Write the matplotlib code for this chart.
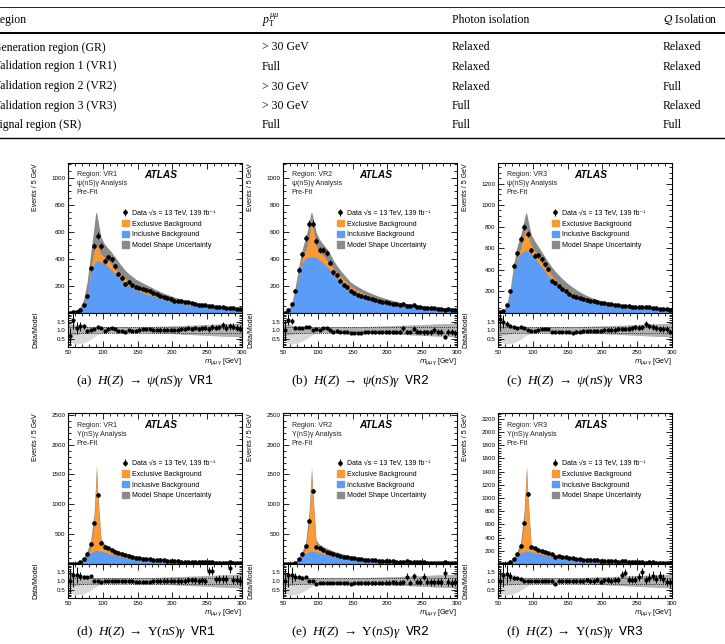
import numpy as np
import matplotlib.pyplot as plt
from matplotlib.lines import Line2D
from matplotlib.patches import Patch
from matplotlib.ticker import MultipleLocator, FormatStrFormatter

plt.rcParams['font.family'] = ['Liberation Sans', 'DejaVu Sans']
plt.rcParams['mathtext.fontset'] = 'custom'
plt.rcParams['mathtext.rm'] = 'Liberation Serif'
plt.rcParams['mathtext.it'] = 'Liberation Serif:italic'
plt.rcParams['mathtext.bf'] = 'Liberation Serif:bold'
plt.rcParams['mathtext.tt'] = 'Liberation Mono'

# ---- tabela de regioes ----
table_header = ['Region', r'$p_{\mathrm{T}}^{\mu\mu}$', 'Photon isolation', r'$\mathcal{Q}$ Isolation']
region_names = ['Generation region (GR)', 'Validation region 1 (VR1)', 'Validation region 2 (VR2)',
                'Validation region 3 (VR3)', 'Signal region (SR)']
pt_cut = ['> 30 GeV', 'Full', '> 30 GeV', '> 30 GeV', 'Full']
photon_iso = ['Relaxed', 'Relaxed', 'Relaxed', 'Full', 'Full']
q_iso = ['Relaxed', 'Relaxed', 'Full', 'Relaxed', 'Full']

# ---- binning: bins de 5 GeV, modelo tambem no pico do Z ----
centers = np.arange(52.5, 300, 5)
m_grid = np.sort(np.r_[50, centers, 89.5, 91, 300])
on_bin = np.isin(m_grid, centers)

# modelo: 50..82.5 | 87.5 89.5 91 92.5 | 97.5..147.5 | 152.5..197.5 | 202.5..247.5 | 252.5..300
psi_vr1_incl = [0, 3, 5, 9, 18, 47, 125, 300, 365, 378, 383, 385,
                378, 362, 342, 318, 292, 266, 243, 222, 204, 188, 174,
                162, 152, 143, 134, 126, 118, 110, 102, 95, 88,
                82, 77, 72, 67, 62, 58, 54, 50, 47, 44,
                41, 38, 36, 34, 32, 30, 28, 26, 25, 24, 23]
psi_vr1_excl = [0, 0, 0, 0, 0, 0, 5, 30, 90, 115, 125, 110,
                60, 50, 45, 42, 38, 35, 32, 30, 28, 26, 24,
                22, 21, 20, 19, 18, 17, 16, 15, 14, 13,
                12, 12, 11, 10, 10, 9, 9, 8, 8, 7,
                7, 6, 6, 6, 5, 5, 5, 4, 4, 4, 4]
psi_vr1_unc = [0, 5, 10, 22, 45, 100, 230, 440, 640, 730, 750, 700,
               560, 510, 480, 450, 415, 380, 345, 315, 290, 270, 250,
               236, 222, 209, 196, 183, 170, 158, 147, 137, 128,
               119, 111, 104, 97, 91, 85, 80, 75, 70, 66,
               62, 59, 56, 53, 50, 48, 46, 44, 42, 41, 40]
psi_vr1_data = [2, 8, 10, 22, 57, 125, 330, 495, 573, 494,
                385, 412, 398, 345, 290, 262, 218, 228, 205, 192,
                188, 180, 168, 160, 146, 138, 126, 118, 110, 100,
                92, 90, 86, 80, 81, 72, 70, 62, 60, 58,
                50, 52, 48, 46, 47, 40, 40, 36, 33, 30]

psi_vr2_incl = [0, 3, 15, 42, 140, 265, 365, 405, 415, 417, 418, 417,
                410, 392, 370, 345, 318, 290, 263, 238, 215, 193, 172,
                155, 142, 130, 120, 110, 101, 93, 86, 80, 74,
                70, 66, 62, 58, 54, 51, 48, 45, 42, 40,
                38, 36, 34, 32, 30, 29, 27, 26, 25, 24, 23]
psi_vr2_excl = [0, 0, 0, 0, 5, 15, 30, 60, 140, 230, 290, 240,
                90, 65, 55, 50, 45, 40, 37, 34, 31, 28, 26,
                24, 22, 21, 20, 19, 18, 17, 16, 15, 14,
                13, 12, 12, 11, 10, 10, 9, 9, 8, 8,
                7, 7, 6, 6, 6, 5, 5, 5, 4, 4, 4]
psi_vr2_unc = [0, 5, 25, 70, 190, 340, 470, 560, 660, 730, 750, 720,
               600, 545, 510, 480, 440, 390, 350, 315, 285, 255, 228,
               210, 195, 180, 167, 155, 144, 134, 124, 115, 107,
               100, 93, 87, 81, 76, 71, 67, 63, 59, 56,
               53, 50, 48, 46, 44, 42, 40, 38, 37, 36, 35]
psi_vr2_data = [3, 24, 64, 165, 320, 433, 556, 662, 662, 531,
                465, 465, 446, 372, 300, 280, 240, 210, 195, 165,
                145, 135, 128, 120, 112, 105, 94, 88, 83, 78,
                74, 70, 66, 60, 70, 54, 50, 58, 45, 42,
                39, 37, 35, 38, 32, 30, 19, 27, 25, 23]

psi_vr3_incl = [0, 3, 12, 55, 165, 375, 495, 555, 572, 575, 575, 575,
                555, 515, 470, 430, 390, 345, 305, 272, 243, 218, 196,
                177, 160, 146, 133, 122, 112, 103, 95, 88, 82,
                76, 71, 66, 62, 58, 55, 52, 49, 46, 44,
                42, 40, 38, 36, 35, 33, 32, 30, 29, 28, 27]
psi_vr3_excl = [0, 0, 0, 0, 0, 5, 10, 40, 150, 190, 200, 160,
                80, 65, 58, 52, 47, 43, 40, 37, 34, 31, 29,
                27, 25, 23, 22, 20, 19, 18, 17, 16, 15,
                14, 13, 12, 12, 11, 10, 10, 9, 9, 8,
                8, 7, 7, 7, 6, 6, 6, 5, 5, 5, 5]
psi_vr3_unc = [0, 5, 15, 80, 220, 450, 620, 720, 860, 920, 930, 880,
               730, 670, 620, 570, 520, 470, 425, 385, 350, 318, 288,
               262, 238, 216, 196, 178, 162, 148, 136, 126, 117,
               109, 102, 95, 89, 84, 79, 75, 71, 67, 64,
               61, 58, 56, 53, 51, 49, 47, 45, 44, 43, 42]
psi_vr3_data = [5, 18, 75, 200, 440, 555, 683, 800, 730, 580,
                530, 536, 499, 452, 406, 300, 277, 252, 225, 200,
                178, 155, 152, 138, 130, 122, 115, 108, 100, 94,
                90, 84, 80, 75, 72, 68, 66, 63, 60, 60,
                57, 54, 60, 52, 48, 44, 40, 38, 36, 30]

ups_vr1_incl = [0, 2, 3, 6, 20, 60, 130, 188, 215, 222, 225, 225,
                215, 197, 178, 160, 144, 130, 117, 106, 96, 88, 80,
                74, 68, 63, 58, 54, 50, 46, 43, 40, 37,
                35, 32, 30, 28, 26, 25, 23, 22, 20, 19,
                18, 17, 16, 15, 14, 13, 12, 12, 11, 10, 10]
ups_vr1_excl = [0, 0, 0, 0, 0, 5, 15, 80, 480, 980, 1370, 920,
                150, 100, 85, 75, 65, 58, 52, 46, 41, 37, 33,
                30, 27, 25, 23, 21, 19, 17, 16, 15, 14,
                13, 12, 11, 10, 9, 9, 8, 8, 7, 7,
                6, 6, 6, 5, 5, 5, 5, 4, 4, 4, 4]
ups_vr1_unc = [0, 3, 5, 10, 35, 100, 220, 380, 850, 1300, 1660, 1250,
               420, 335, 300, 270, 245, 222, 200, 182, 165, 150, 137,
               125, 115, 106, 97, 90, 83, 77, 72, 67, 62,
               58, 54, 50, 47, 44, 42, 39, 37, 35, 33,
               31, 29, 28, 26, 25, 24, 23, 22, 21, 20, 20]
ups_vr1_data = [2, 4, 8, 26, 80, 175, 340, 680, 1150, 345,
                290, 262, 233, 205, 190, 167, 150, 133, 122, 108,
                100, 92, 85, 78, 74, 70, 64, 60, 56, 52,
                48, 44, 40, 38, 37, 36, 32, 30, 28, 26,
                38, 37, 24, 22, 21, 20, 30, 17, 16, 14]

ups_vr2_incl = [0, 2, 3, 6, 20, 58, 128, 180, 205, 210, 212, 212,
                205, 190, 173, 157, 142, 129, 117, 106, 97, 89, 82,
                75, 69, 64, 59, 55, 51, 47, 44, 41, 38,
                36, 33, 31, 29, 27, 25, 24, 22, 21, 20,
                19, 18, 17, 16, 15, 14, 13, 12, 12, 11, 11]
ups_vr2_excl = [0, 0, 0, 0, 0, 5, 12, 70, 520, 960, 1355, 1000,
                140, 105, 90, 80, 70, 62, 55, 49, 44, 40, 36,
                33, 30, 27, 25, 23, 21, 19, 18, 17, 16,
                15, 14, 13, 12, 11, 10, 10, 9, 9, 8,
                8, 7, 7, 7, 6, 6, 6, 5, 5, 5, 5]
ups_vr2_unc = [0, 3, 5, 10, 32, 95, 210, 360, 880, 1300, 1620, 1300,
               400, 330, 295, 265, 240, 218, 198, 180, 164, 150, 138,
               126, 116, 107, 99, 92, 85, 79, 74, 69, 64,
               60, 56, 52, 49, 46, 43, 41, 39, 37, 35,
               33, 31, 30, 28, 27, 26, 25, 24, 23, 22, 22]
ups_vr2_data = [2, 4, 8, 25, 78, 165, 305, 722, 1222, 289,
                261, 233, 205, 189, 167, 150, 139, 122, 111, 100,
                94, 86, 80, 74, 70, 65, 60, 56, 52, 49,
                46, 43, 40, 37, 35, 44, 31, 40, 28, 27,
                34, 24, 22, 21, 20, 19, 28, 16, 15, 15]

ups_vr3_incl = [0, 2, 3, 5, 18, 55, 120, 165, 185, 190, 192, 192,
                186, 174, 160, 146, 132, 120, 109, 99, 90, 82, 75,
                69, 63, 58, 54, 50, 46, 43, 40, 37, 34,
                32, 30, 28, 26, 24, 23, 21, 20, 19, 18,
                17, 16, 15, 14, 13, 13, 12, 11, 11, 10, 10]
ups_vr3_excl = [0, 0, 0, 0, 0, 5, 10, 70, 450, 900, 1260, 880,
                80, 62, 55, 50, 45, 41, 37, 34, 31, 28, 26,
                24, 22, 20, 19, 18, 17, 16, 15, 14, 13,
                12, 11, 11, 10, 10, 9, 9, 8, 8, 7,
                7, 7, 6, 6, 6, 5, 5, 5, 5, 4, 4]
ups_vr3_unc = [0, 3, 5, 10, 32, 95, 190, 330, 800, 1200, 1480, 1150,
               300, 265, 240, 218, 198, 180, 164, 150, 137, 126, 116,
               107, 99, 91, 85, 79, 73, 68, 64, 60, 56,
               52, 49, 46, 43, 41, 39, 37, 35, 33, 31,
               30, 29, 27, 26, 25, 24, 23, 22, 21, 20, 20]
ups_vr3_data = [2, 4, 7, 23, 72, 150, 268, 625, 1059, 260,
                240, 215, 199, 180, 165, 150, 112, 122, 110, 100,
                92, 86, 78, 73, 68, 66, 58, 54, 55, 45,
                46, 44, 40, 38, 36, 44, 45, 30, 29, 27,
                30, 35, 22, 24, 25, 20, 22, 18, 15, 13]

# banda relativa do painel de razao (por bin)
ratio_band_hi = [1.35, 1.30, 1.27, 1.25, 1.22, 1.20, 1.20, 1.20, 1.20, 1.20,
                 1.20, 1.20, 1.20, 1.20, 1.20, 1.20, 1.20, 1.20, 1.20, 1.20,
                 1.20, 1.20, 1.20, 1.21, 1.21, 1.22, 1.22, 1.23, 1.23, 1.24,
                 1.25, 1.25, 1.26, 1.27, 1.28, 1.28, 1.29, 1.30, 1.31, 1.32,
                 1.33, 1.33, 1.34, 1.35, 1.36, 1.36, 1.37, 1.38, 1.39, 1.40]
ratio_band_lo = [0.70, 0.72, 0.75, 0.78, 0.80, 0.82, 0.83, 0.84, 0.84, 0.84,
                 0.84, 0.84, 0.84, 0.84, 0.84, 0.84, 0.84, 0.84, 0.84, 0.84,
                 0.84, 0.84, 0.83, 0.83, 0.82, 0.82, 0.81, 0.80, 0.80, 0.79,
                 0.78, 0.77, 0.76, 0.75, 0.74, 0.73, 0.72, 0.71, 0.70, 0.69,
                 0.68, 0.67, 0.66, 0.65, 0.64, 0.63, 0.62, 0.62, 0.61, 0.60]
ratio_light_hi = [1.60, 1.50, 1.30, 1.25, 1.22, 1.20, 1.20, 1.20, 1.20, 1.20,
                  1.20, 1.20, 1.20, 1.20, 1.20, 1.20, 1.20, 1.20, 1.20, 1.20,
                  1.20, 1.20, 1.20, 1.21, 1.21, 1.22, 1.22, 1.23, 1.23, 1.24,
                  1.25, 1.25, 1.26, 1.27, 1.28, 1.28, 1.29, 1.30, 1.31, 1.32,
                  1.33, 1.33, 1.34, 1.35, 1.36, 1.36, 1.37, 1.38, 1.39, 1.40]
ratio_light_lo = [0.40, 0.20, 0.18, 0.20, 0.25, 0.35, 0.45, 0.60, 0.72, 0.80,
                  0.84, 0.84, 0.84, 0.84, 0.84, 0.84, 0.84, 0.84, 0.84, 0.84,
                  0.84, 0.84, 0.83, 0.83, 0.82, 0.82, 0.81, 0.80, 0.80, 0.79,
                  0.78, 0.77, 0.76, 0.75, 0.74, 0.73, 0.72, 0.71, 0.70, 0.69,
                  0.68, 0.67, 0.66, 0.65, 0.64, 0.63, 0.62, 0.62, 0.61, 0.60]

ORANGE = '#fb9a35'
BLUE = '#5b9df6'
GREY = '#8a8a8a'
RDARK = '#b0b0b0'
RLIGHT = '#d9d9d9'

W, H = 725, 644
fig = plt.figure(figsize=(W / 100, H / 100), dpi=100)


def fx(px):
    return px / W


def fy(py):
    return 1 - py / H


# ---- tabela ----
col_x = [-7, 262, 452, 663]
row_y = [47.5, 66.5, 86.5, 106, 125]
for x, t in zip(col_x, table_header):
    kw = dict(math_fontfamily='stix') if 'mathcal' in t else {}
    fig.text(fx(x), fy(20), t, fontsize=8.5, family='Liberation Serif', va='center', **kw)
for i, y in enumerate(row_y):
    for x, col in zip(col_x, [region_names, pt_cut, photon_iso, q_iso]):
        fig.text(fx(x), fy(y), col[i], fontsize=8.5, family='Liberation Serif', va='center')
fig.add_artist(Line2D([0, 1], [fy(7), fy(7)], color='k', lw=0.6))
fig.add_artist(Line2D([0, 1], [fy(33), fy(33)], color='k', lw=1.4))
fig.add_artist(Line2D([0, 1], [fy(137.5), fy(137.5)], color='k', lw=1.0))

# ---- paineis ----
panels = [
    ('a', 0, 0, 'ψ(nS)γ', r'\psi', 'VR1', psi_vr1_incl, psi_vr1_excl, psi_vr1_unc, psi_vr1_data, 1110, 200),
    ('b', 1, 0, 'ψ(nS)γ', r'\psi', 'VR2', psi_vr2_incl, psi_vr2_excl, psi_vr2_unc, psi_vr2_data, 1110, 200),
    ('c', 2, 0, 'ψ(nS)γ', r'\psi', 'VR3', psi_vr3_incl, psi_vr3_excl, psi_vr3_unc, psi_vr3_data, 1390, 200),
    ('d', 0, 1, 'Υ(nS)γ', r'\Upsilon', 'VR1', ups_vr1_incl, ups_vr1_excl, ups_vr1_unc, ups_vr1_data, 2530, 500),
    ('e', 1, 1, 'Υ(nS)γ', r'\Upsilon', 'VR2', ups_vr2_incl, ups_vr2_excl, ups_vr2_unc, ups_vr2_data, 2530, 500),
    ('f', 2, 1, 'Υ(nS)γ', r'\Upsilon', 'VR3', ups_vr3_incl, ups_vr3_excl, ups_vr3_unc, ups_vr3_data, 2290, 200),
]
col_left = [68, 283, 498]
rows_px = [(163, 313, 347, 381), (413, 564, 598, 632)]
ax_w = 174
edges = np.r_[50, centers, 300]


def pad(a):
    return np.pad(np.asarray(a, float), 1, mode='edge')


for tag, ci, ri, ana, ana_tex, region, incl, excl, unc, data, ymax, ystep in panels:
    left = col_left[ci]
    top, mid, bot, cap_y = rows_px[ri]
    ax = fig.add_axes([fx(left), fy(mid), ax_w / W, (mid - top) / H])
    rax = fig.add_axes([fx(left), fy(bot), ax_w / W, (bot - mid) / H], sharex=ax)

    incl = np.array(incl, float)
    total = incl + np.array(excl, float)
    data = np.array(data, float)

    ax.fill_between(m_grid, 0, unc, color=GREY, lw=0, zorder=1)
    ax.fill_between(m_grid, 0, incl, color=BLUE, lw=0, zorder=2)
    ax.fill_between(m_grid, incl, total, color=ORANGE, lw=0, zorder=2)
    h_data = ax.errorbar(centers, data, yerr=np.sqrt(data), fmt='o', ms=2.3, color='k',
                         elinewidth=0.7, capsize=0, zorder=5)

    ax.set_xlim(50, 300)
    ax.set_ylim(0, ymax)
    ax.set_yticks(np.arange(ystep, ymax, ystep))
    ax.yaxis.set_minor_locator(MultipleLocator(ystep / 4 if ystep == 200 and ymax < 2000 else ystep / 5))
    ax.tick_params(labelbottom=False)
    ax.set_ylabel('Events / 5 GeV', fontsize=5)
    ax.yaxis.set_label_coords(-0.167, 1.0)
    ax.yaxis.label.set_ha('right')

    ax.text(0.05, 0.92, 'Region: ' + region, transform=ax.transAxes, fontsize=5, va='center', color='#222222')
    ax.text(0.05, 0.86, ana + ' Analysis', transform=ax.transAxes, fontsize=5, va='center', color='#222222')
    ax.text(0.05, 0.80, 'Pre-Fit', transform=ax.transAxes, fontsize=5, va='center', color='#222222')
    ax.text(0.535, 0.92, 'ATLAS', transform=ax.transAxes, fontsize=7.3, ha='center', va='center',
            fontweight='bold', fontstyle='italic')

    handles = [h_data, Patch(color=ORANGE), Patch(color=BLUE), Patch(color=GREY)]
    labels = ['Data √s = 13 TeV, 139 fb⁻¹', 'Exclusive Background', 'Inclusive Background',
              'Model Shape Uncertainty']
    ax.legend(handles, labels, loc='upper left', bbox_to_anchor=(0.31, 0.69), frameon=False,
              fontsize=5, handlelength=1.0, handleheight=1.0, handletextpad=0.4,
              labelspacing=0.45, borderaxespad=0, borderpad=0)

    # razao
    mtot = total[on_bin]
    rax.fill_between(edges, pad(ratio_light_lo), pad(ratio_light_hi), color=RLIGHT, lw=0, zorder=1)
    rax.fill_between(edges, pad(ratio_band_lo), pad(ratio_band_hi), color=RDARK, lw=0, zorder=2)
    for lvl in (1.2, 0.8):
        rax.axhline(lvl, color='k', ls=(0, (1, 1.5)), lw=0.6, zorder=3)
    rax.errorbar(centers, data / mtot, yerr=np.sqrt(data) / mtot, fmt='o', ms=2.0, color='k',
                 elinewidth=0.7, capsize=0, zorder=5)
    rax.set_ylim(0, 2)
    rax.set_yticks([0.5, 1.0, 1.5])
    rax.yaxis.set_major_formatter(FormatStrFormatter('%.1f'))
    rax.yaxis.set_minor_locator(MultipleLocator(0.1))
    rax.xaxis.set_major_locator(MultipleLocator(50))
    rax.xaxis.set_minor_locator(MultipleLocator(10))
    rax.set_ylabel('Data/Model', fontsize=5)
    rax.yaxis.set_label_coords(-0.167, 0.5)
    rax.set_xlabel(r'$m_{\mu\mu\gamma}$ [GeV]', fontsize=5, loc='right', math_fontfamily='dejavusans',
                   labelpad=1)

    for a in (ax, rax):
        a.tick_params(which='both', direction='in', top=True, right=True, labelsize=4.5,
                      width=0.6, pad=2)
        a.tick_params(which='major', length=4)
        a.tick_params(which='minor', length=2)
        for s in a.spines.values():
            s.set_linewidth(0.8)

    cap = r'(%s)  $H(Z)\ \rightarrow\ %s(nS)\gamma$  $\mathtt{%s}$' % (tag, ana_tex, region)
    fig.text(fx(left + 8), fy(cap_y), cap, fontsize=9.5, family='Liberation Serif', va='center')

fig.savefig('out.png', dpi=100)
